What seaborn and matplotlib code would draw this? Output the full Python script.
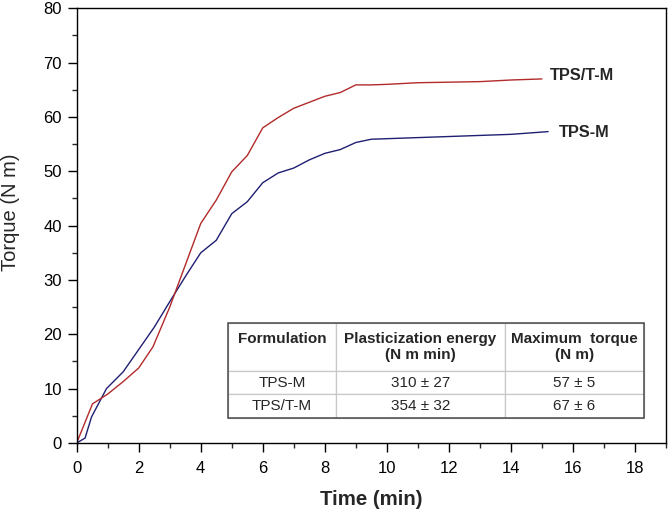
import matplotlib
matplotlib.use('Agg')
import matplotlib.pyplot as plt
from matplotlib.ticker import MultipleLocator
from matplotlib.patches import Rectangle
import seaborn as sns
import pandas as pd

# ---- data ----
time_tpsm = [0, 0.27, 0.48, 0.96, 1.5, 2.0, 2.5, 3.0, 3.5, 4.0, 4.5, 5.0, 5.5,
             6.0, 6.5, 7.0, 7.5, 8.0, 8.5, 9.0, 9.5, 10, 11, 12, 13, 14, 15.2]
torque_tpsm = [0, 0.9, 4.8, 10.0, 13.1, 17.2, 21.3, 26.0, 30.6, 35.0, 37.3, 42.2, 44.4,
               47.9, 49.7, 50.6, 52.1, 53.3, 54.0, 55.3, 55.9, 56.0, 56.2, 56.4, 56.6, 56.8, 57.3]

time_tpstm = [0, 0.51, 1.0, 1.5, 2.0, 2.46, 3.0, 3.5, 4.0, 4.5, 5.0, 5.5, 6.0, 6.5,
              7.0, 7.5, 8.0, 8.5, 9.0, 9.5, 10.0, 11.0, 12.0, 13.0, 14.0, 15.0]
torque_tpstm = [0, 7.2, 9.0, 11.3, 13.8, 17.7, 25.0, 32.7, 40.4, 44.7, 49.9, 52.9, 58.0, 59.9,
                61.6, 62.7, 63.8, 64.5, 65.9, 65.9, 66.0, 66.3, 66.4, 66.5, 66.8, 67.0]

series_names = ["TPS-M", "TPS/T-M"]
series_colors = ["#1f1f73", "#b22a2a"]

table_header = ["Formulation\n ", "Plasticization energy\n(N m min)", "Maximum  torque\n(N m)"]
table_rows = [["TPS-M", "310 \u00b1 27", "57 \u00b1 5"],
              ["TPS/T-M", "354 \u00b1 32", "67 \u00b1 6"]]

x_major_ticks = list(range(0, 19, 2))
y_major_ticks = list(range(0, 81, 10))

# ---- style ----
sns.set_style('ticks')
plt.rcParams['font.family'] = ['Liberation Sans', 'DejaVu Sans']

df = pd.concat([
    pd.DataFrame({'time': time_tpsm, 'torque': torque_tpsm, 'series': series_names[0]}),
    pd.DataFrame({'time': time_tpstm, 'torque': torque_tpstm, 'series': series_names[1]}),
], ignore_index=True)

fig = plt.figure(figsize=(6.69, 5.11), dpi=100)
ax = fig.add_axes([0.1146, 0.1331, 0.8809, 0.8507])

sns.lineplot(data=df, x='time', y='torque', hue='series',
             palette=dict(zip(series_names, series_colors)),
             ax=ax, legend=False, linewidth=1.0, sort=False, estimator=None)

ax.set_xlim(0, 19)
ax.set_ylim(0, 80)
ax.set_xticks(x_major_ticks)
ax.set_yticks(y_major_ticks)
ax.xaxis.set_minor_locator(MultipleLocator(1))
ax.yaxis.set_minor_locator(MultipleLocator(5))
ax.tick_params(which='major', length=6.5, width=1, direction='out',
               labelsize=12, pad=4, colors='black')
ax.tick_params(axis='x', which='major', pad=6.5)
ax.tick_params(which='minor', length=3.6, width=1, direction='out')
ax.tick_params(top=False, right=False, which='both')
for sp in ax.spines.values():
    sp.set_visible(True)
    sp.set_color('black')
    sp.set_linewidth(1.0)

ax.set_xlabel('Time (min)', fontsize=14.7, fontweight='bold')
ax.xaxis.label.set_va('center')
ax.xaxis.set_label_coords(0.5, -0.131)
ax.set_ylabel('Torque (N m)', fontsize=14.5)
ax.yaxis.label.set_va('center')
ax.yaxis.set_label_coords(-0.1115, 0.531)

ax.text(15.27, 67.6, series_names[1], fontsize=11.8, fontweight='bold', va='center', ha='left')
ax.text(15.54, 57.1, series_names[0], fontsize=11.8, fontweight='bold', va='center', ha='left')

# ---- inset table ----
tb_bbox = [0.2573, 0.0568, 0.7054, 0.2186]
tbl = ax.table(cellText=table_rows, colLabels=table_header, cellLoc='center',
               colWidths=[0.2485, 0.39, 0.3208], bbox=tb_bbox)
tbl.auto_set_font_size(False)
tbl.set_fontsize(11)
row_heights = {0: 47.7, 1: 23.3, 2: 24.0}
for (r, c), cell in tbl.get_celld().items():
    cell.set_height(row_heights[r])
    cell.set_edgecolor('#c8c8c8')
    cell.set_linewidth(0.9)
    cell.set_facecolor('white')
    if r == 0:
        cell.get_text().set_fontweight('bold')
        cell.get_text().set_linespacing(1.25)
ax.add_patch(Rectangle((tb_bbox[0], tb_bbox[1]), tb_bbox[2], tb_bbox[3],
                       transform=ax.transAxes, fill=False, ec='#4a4a4a', lw=1.1, zorder=10))

fig.savefig('out.png', dpi=100)
